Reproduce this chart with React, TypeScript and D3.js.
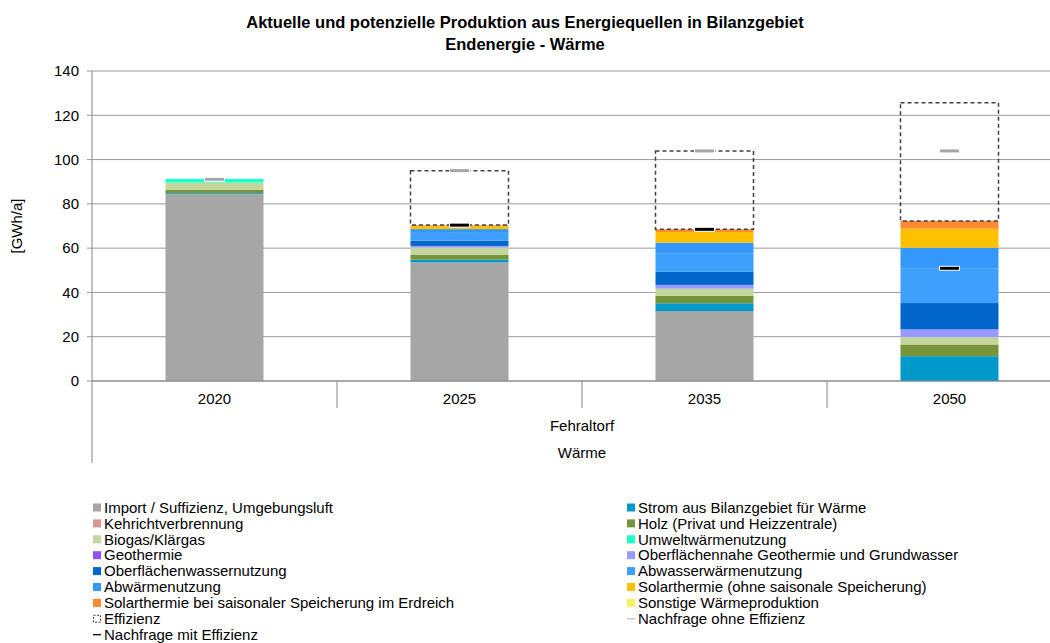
import React from 'react';
import * as d3 from 'd3';

const years = ['2020', '2025', '2035', '2050'];

const importVals = [84.3, 53.6, 31.6, 0];
const stromVals = [0.5, 1.2, 3.5, 11.2];
const kehrichtVals = [0, 0, 0, 0];
const holzVals = [1.5, 2.3, 3.4, 5.3];
const biogasVals = [3.3, 3.2, 3.2, 3.3];
const umweltVals = [1.7, 0, 0, 0];
const geothermieVals = [0, 0, 0, 0];
const oberflaechennaheVals = [0, 0.7, 1.7, 3.5];
const oberflaechenwasserVals = [0, 2.4, 5.9, 11.9];
const abwasserVals = [0, 3.5, 8.4, 15.7];
const abwaermeVals = [0, 1.7, 4.8, 9.3];
const solarVals = [0, 1.5, 4.8, 8.6];
const solarSaisonalVals = [0, 0.3, 1.2, 3.5];
const sonstigeVals = [0, 0, 0, 0];
const effizienzVals = [0, 24.6, 35.4, 53.4];
const nachfrageOhne = [91.1, 95.0, 103.9, 103.9];
const nachfrageMit: (number | null)[] = [null, 70.4, 68.5, 50.9];

const yTicks = [0, 20, 40, 60, 80, 100, 120, 140];

const seriesNames = [
  'Import / Suffizienz, Umgebungsluft',
  'Strom aus Bilanzgebiet für Wärme',
  'Kehrichtverbrennung',
  'Holz (Privat und Heizzentrale)',
  'Biogas/Klärgas',
  'Umweltwärmenutzung',
  'Geothermie',
  'Oberflächennahe Geothermie und Grundwasser',
  'Oberflächenwassernutzung',
  'Abwasserwärmenutzung',
  'Abwärmenutzung',
  'Solarthermie (ohne saisonale Speicherung)',
  'Solarthermie bei saisonaler Speicherung im Erdreich',
  'Sonstige Wärmeproduktion',
];
const seriesValues = [
  importVals, stromVals, kehrichtVals, holzVals, biogasVals, umweltVals, geothermieVals,
  oberflaechennaheVals, oberflaechenwasserVals, abwasserVals, abwaermeVals, solarVals,
  solarSaisonalVals, sonstigeVals,
];
const seriesColors = [
  '#a6a6a6', '#0099cc', '#d99694', '#77933c', '#c3d69b', '#1affcc', '#9052f8',
  '#9999ff', '#0066cc', '#3f9ffd', '#3397fb', '#ffc000', '#fd8a32', '#f0f262',
];

const FONT = 'Liberation Sans, Arial, sans-serif';

export default function App() {
  const W = 1050, H = 643;
  const left = 92, right = 1072, top = 71, bottom = 381;

  const x = d3.scaleBand<string>().domain(years).range([left, right]).padding(0);
  const barW = x.bandwidth() * 0.4;
  const y = d3.scaleLinear().domain([0, 140]).range([bottom, top]);

  const keys = [...seriesNames, 'Effizienz'];
  const table = years.map((yr, i) => {
    const row: Record<string, any> = { year: yr };
    seriesNames.forEach((n, k) => { row[n] = seriesValues[k][i]; });
    row['Effizienz'] = effizienzVals[i];
    return row;
  });
  const stacked = d3.stack<any>().keys(keys)(table);

  const legendItems = [
    ...seriesNames.map((n, k) => ({ name: n, type: 'rect', color: seriesColors[k] })),
    { name: 'Effizienz', type: 'dash', color: '#404040' },
    { name: 'Nachfrage ohne Effizienz', type: 'line', color: '#bfbfbf' },
    { name: 'Nachfrage mit Effizienz', type: 'line', color: '#000000' },
  ];

  const cx = (yr: string) => (x(yr) as number) + x.bandwidth() / 2;

  return (
    <svg width={W} height={H} style={{ position: 'absolute', left: 0, top: 0, background: '#fff' }} fontFamily={FONT}>
      <rect x={0} y={0} width={W} height={H} fill="#fff" />
      <text x={525} y={28} textAnchor="middle" fontSize={16.5} fontWeight="bold" fill="#000">
        Aktuelle und potenzielle Produktion aus Energiequellen in Bilanzgebiet
      </text>
      <text x={525} y={50} textAnchor="middle" fontSize={16.5} fontWeight="bold" fill="#000">
        Endenergie - Wärme
      </text>

      {/* gridlines */}
      {yTicks.map(t => (
        <g key={t}>
          <line x1={left - 5} x2={W} y1={y(t)} y2={y(t)} stroke="#9a9a9a" strokeWidth={1} />
          <text x={79} y={y(t)} dy="0.35em" textAnchor="end" fontSize={15} fill="#000">{t}</text>
        </g>
      ))}

      <text transform={`translate(22, ${(top + bottom) / 2}) rotate(-90)`} textAnchor="middle" fontSize={15} fill="#000">[GWh/a]</text>

      {/* stacked bars */}
      {stacked.map((s, k) => (
        <g key={s.key}>
          {s.map((d, i) => {
            const h = y(d[0]) - y(d[1]);
            if (h <= 0) return null;
            const bx = cx(years[i]) - barW / 2;
            if (s.key === 'Effizienz') {
              return (
                <rect key={i} x={bx} y={y(d[1])} width={barW} height={h} fill="none"
                  stroke="#404040" strokeWidth={1.5} strokeDasharray="4,3" />
              );
            }
            return <rect key={i} x={bx} y={y(d[1])} width={barW} height={h} fill={seriesColors[k]} />;
          })}
        </g>
      ))}

      {/* demand markers */}
      {nachfrageOhne.map((v, i) => (
        <rect key={'o' + i} x={cx(years[i]) - 10} y={y(v) - 2} width={20} height={4}
          fill="#a6a6a6" stroke="#fff" strokeWidth={1} />
      ))}
      {nachfrageMit.map((v, i) => v == null ? null : (
        <rect key={'m' + i} x={cx(years[i]) - 10} y={y(v) - 2} width={20} height={4}
          fill="#000" stroke="#fff" strokeWidth={1} />
      ))}

      {/* axes */}
      <line x1={left} x2={left} y1={top} y2={463} stroke="#868686" strokeWidth={1} />
      <line x1={left} x2={W} y1={bottom} y2={bottom} stroke="#868686" strokeWidth={1} />
      {years.slice(1).map(yr => (
        <line key={yr} x1={x(yr) as number} x2={x(yr) as number} y1={bottom} y2={408} stroke="#868686" strokeWidth={1} />
      ))}
      {years.map(yr => (
        <text key={yr} x={cx(yr)} y={399} dy="0.35em" textAnchor="middle" fontSize={15} fill="#000">{yr}</text>
      ))}
      <text x={(left + right) / 2} y={426} dy="0.35em" textAnchor="middle" fontSize={15} fill="#000">Fehraltorf</text>
      <text x={(left + right) / 2} y={453} dy="0.35em" textAnchor="middle" fontSize={15} fill="#000">Wärme</text>

      {/* legend */}
      {legendItems.map((it, idx) => {
        const col = idx % 2;
        const row = Math.floor(idx / 2);
        const lx = col === 0 ? 93 : 627;
        const ly = 507.5 + row * 15.9;
        return (
          <g key={it.name}>
            {it.type === 'rect' && <rect x={lx} y={ly - 4} width={8} height={8} fill={it.color} />}
            {it.type === 'dash' && (
              <rect x={lx + 0.5} y={ly - 3.5} width={7} height={7} fill="none" stroke={it.color}
                strokeWidth={1} strokeDasharray="2,1.5" />
            )}
            {it.type === 'line' && <line x1={lx} x2={lx + 8} y1={ly} y2={ly} stroke={it.color} strokeWidth={1.3} />}
            <text x={lx + 11} y={ly} dy="0.35em" fontSize={15} fill="#000">{it.name}</text>
          </g>
        );
      })}
    </svg>
  );
}
